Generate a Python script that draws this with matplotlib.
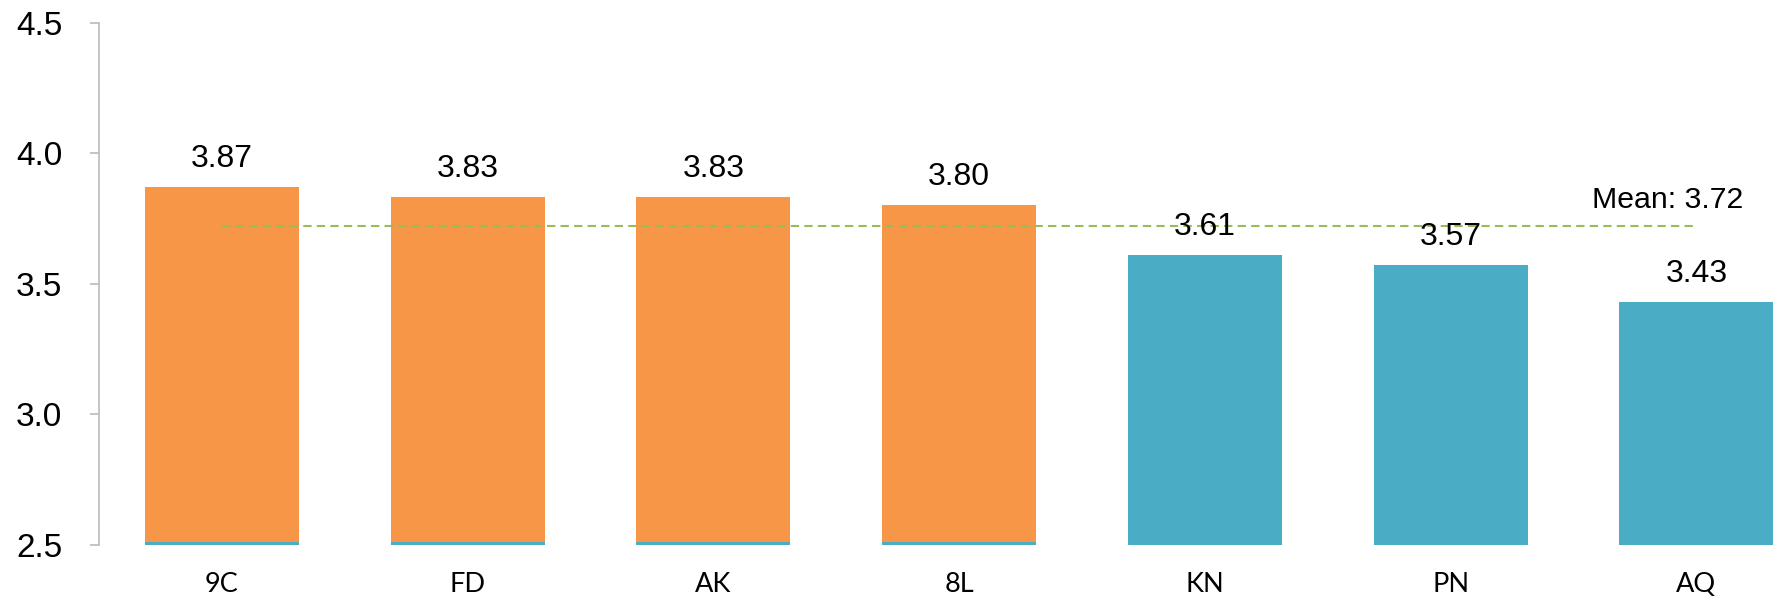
import numpy as np
import matplotlib
matplotlib.use("Agg")
import matplotlib.pyplot as plt

# data
categories = ["9C", "FD", "AK", "8L", "KN", "PN", "AQ"]
values = [3.87, 3.83, 3.83, 3.80, 3.61, 3.57, 3.43]
value_labels = ["3.87", "3.83", "3.83", "3.80", "3.61", "3.57", "3.43"]
above_mean = [True, True, True, True, False, False, False]
mean_value = 3.72
y_ticks = [2.5, 3.0, 3.5, 4.0, 4.5]

orange = "#F79646"
blue = "#4BACC6"
green = "#9BBB59"
axis_gray = "#BFBFBF"

fig = plt.figure(figsize=(17.75, 6.01), dpi=100)
ax = fig.add_axes([0.0558, 0.094, 1.0 - 0.0558, 0.9624 - 0.094])

x = np.arange(len(categories))
bar_w = 0.627
base = 2.5

colors = [orange if a else blue for a in above_mean]
heights = [v - base for v in values]
ax.bar(x, heights, bottom=base, width=bar_w, color=colors, zorder=2)

# thin blue strip at the foot of the orange bars
x_orange = [i for i, a in enumerate(above_mean) if a]
ax.bar(x_orange, 0.008, bottom=base, width=bar_w, color=blue, zorder=3)

# value labels
for i, v in enumerate(values):
    ax.annotate(value_labels[i], xy=(x[i], v), xytext=(0, 14.6),
                textcoords="offset points", ha="center", va="baseline",
                fontsize=23, family="Liberation Sans", color="black", zorder=5)

# mean line
ax.hlines(mean_value, 0, len(categories) - 1, colors=green, linestyles=(0, (4, 2.5)),
          linewidth=1.5, zorder=4)
ax.annotate("Mean: %.2f" % mean_value, xy=(6.19, mean_value), xytext=(0, 13.2),
            textcoords="offset points", ha="right", va="baseline",
            fontsize=21.8, family="Liberation Sans", color="black", zorder=5)

ax.set_xlim(-0.5, 6.32)
ax.set_ylim(2.5, 4.5)
ax.set_yticks(y_ticks)
ax.set_yticklabels(["%.1f" % t for t in y_ticks], fontsize=24, family="Liberation Sans")
ax.set_xticks(x)
ax.set_xticklabels(categories, fontsize=19.5, family="Lato")

for s in ["top", "right", "bottom"]:
    ax.spines[s].set_visible(False)
ax.spines["left"].set_color(axis_gray)
ax.spines["left"].set_linewidth(1.3)
ax.tick_params(axis="y", length=6.5, width=1.3, color=axis_gray, pad=20)
ax.tick_params(axis="x", length=0, pad=20)

fig.savefig("out.png", dpi=100)
